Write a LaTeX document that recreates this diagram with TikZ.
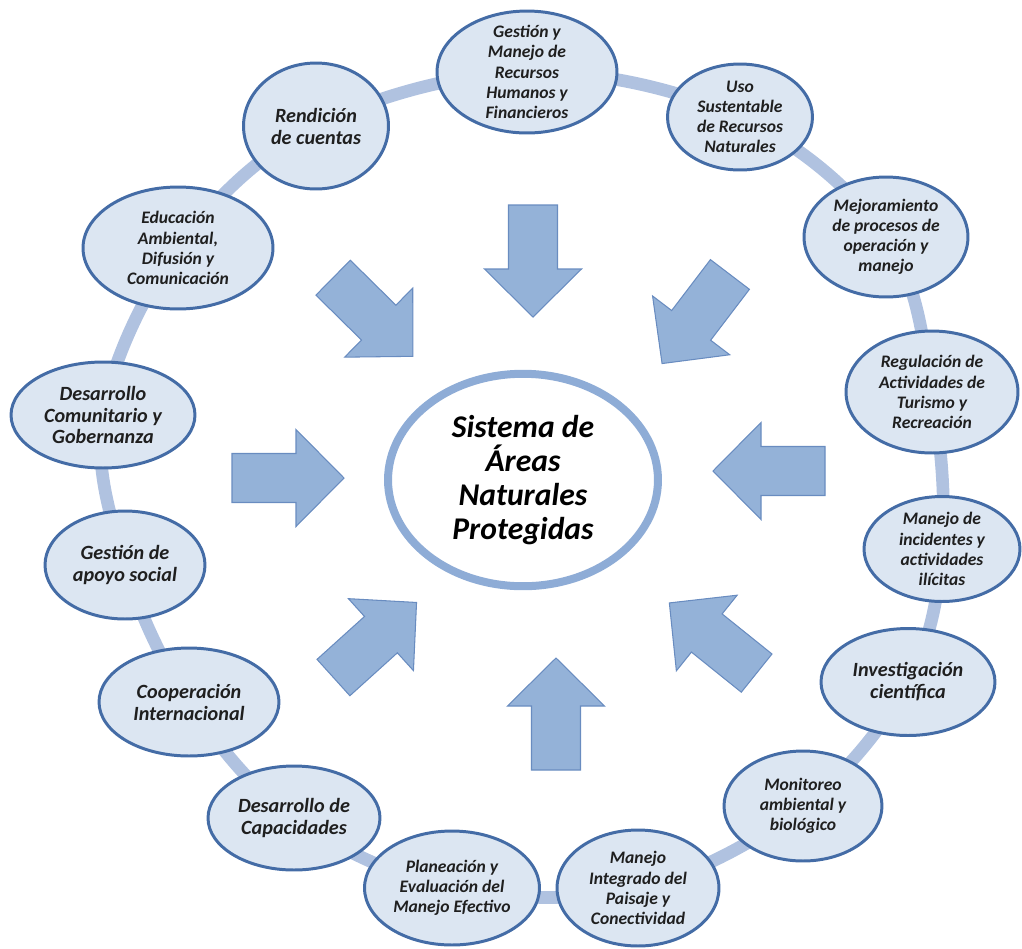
\documentclass[tikz,border=0pt]{standalone}
\usepackage{fontspec}
\setmainfont{Carlito}
\usetikzlibrary{shapes.geometric,backgrounds}

\definecolor{bubblefill}{RGB}{220,230,242}
\definecolor{bubbleline}{RGB}{68,108,166}
\definecolor{ringblue}{RGB}{176,194,224}
\definecolor{arrowfill}{RGB}{148,178,216}
\definecolor{arrowline}{RGB}{105,140,192}
\definecolor{coreline}{RGB}{142,172,214}

\tikzset{
  bubble/.style={ellipse, draw=bubbleline, fill=bubblefill, line width=1.7pt, inner sep=0pt},
  smalltext/.style={align=center, text=black!88, font=\fontsize{10}{11.5}\selectfont\bfseries\itshape},
  bigtext/.style={align=center, text=black!88, font=\fontsize{11.5}{12.5}\selectfont\bfseries\itshape},
  coretext/.style={align=center, text=black, font=\fontsize{18}{19.5}\selectfont\bfseries\itshape},
  ring/.style={draw=ringblue, line width=7.2pt},
  blockarrow/.pic={
    \draw[fill=arrowfill, draw=arrowline, line width=0.6pt]
      (-56,-24.5) -- (8,-24.5) -- (8,-48.5) -- (56,0) -- (8,48.5) -- (8,24.5) -- (-56,24.5) -- cycle;
  }
}

\begin{document}
\begin{tikzpicture}[x=0.02cm, y=-0.02cm]

\useasboundingbox (0,0) rectangle (1022,948);

% centre
\node[ellipse, draw=coreline, fill=white, line width=0.16cm, inner sep=0pt, minimum width=5.4cm, minimum height=4.25cm,
  label={[coretext]center:{Sistema de\\Áreas\\Naturales\\Protegidas}}] (sanp) at (523,480) {};

% ring of topics, clockwise from the top
\node[bubble, minimum width=3.6cm, minimum height=2.44cm, label={[smalltext]center:{Gestión y\\Manejo de\\Recursos\\Humanos y\\Financieros}}] (gestion) at (527,72) {};
\node[bubble, minimum width=2.9cm, minimum height=2.12cm, label={[smalltext]center:{Uso\\Sustentable\\de Recursos\\Naturales}}] (uso) at (740,117) {};
\node[bubble, minimum width=3.28cm, minimum height=2.4cm, label={[smalltext]center:{Mejoramiento\\de procesos de\\operación y\\manejo}}] (mejora) at (886,237) {};
\node[bubble, minimum width=3.44cm, minimum height=2.44cm, label={[smalltext]center:{Regulación de\\Actividades de\\Turismo y\\Recreación}}] (regula) at (932,392) {};
\node[bubble, minimum width=3.12cm, minimum height=2.1cm, label={[smalltext]center:{Manejo de\\incidentes y\\actividades\\ilícitas}}] (ilicitas) at (942,549) {};
\node[bubble, minimum width=3.48cm, minimum height=2.14cm, label={[bigtext]center:{Investigación\\científica}}] (investiga) at (908,682) {};
\node[bubble, minimum width=3.16cm, minimum height=2.2cm, label={[smalltext]center:{Monitoreo\\ambiental y\\biológico}}] (monitoreo) at (803,806) {};
\node[bubble, minimum width=3.24cm, minimum height=2.32cm, label={[smalltext]center:{Manejo\\Integrado del\\Paisaje y\\Conectividad}}] (paisaje) at (638,888) {};
\node[bubble, minimum width=3.5cm, minimum height=2.28cm, label={[smalltext]center:{Planeación y\\Evaluación del\\Manejo Efectivo}}] (planea) at (452,888) {};
\node[bubble, minimum width=3.44cm, minimum height=2.08cm, label={[bigtext]center:{Desarrollo de\\Capacidades}}] (capacidad) at (294,818) {};
\node[bubble, minimum width=3.6cm, minimum height=2.16cm, label={[bigtext]center:{Cooperación\\Internacional}}] (coopera) at (189,702) {};
\node[bubble, minimum width=3.2cm, minimum height=2.16cm, label={[bigtext]center:{Gestión de\\apoyo social}}] (apoyo) at (125,565) {};
\node[bubble, minimum width=3.68cm, minimum height=2.12cm, label={[bigtext]center:{Desarrollo\\Comunitario y\\Gobernanza}}] (comunidad) at (103,415) {};
\node[bubble, minimum width=3.8cm, minimum height=2.44cm, label={[smalltext]center:{Educación\\Ambiental,\\Difusión y\\Comunicación}}] (educa) at (178,248) {};
\node[bubble, minimum width=2.9cm, minimum height=2.52cm, label={[bigtext]center:{Rendición\\de cuentas}}] (rinde) at (316,126) {};

\begin{scope}[on background layer]
\draw[ring] plot[smooth cycle, tension=0.6] coordinates {(gestion.center) (uso.center) (mejora.center) (regula.center)
  (ilicitas.center) (investiga.center) (monitoreo.center) (paisaje.center) (planea.center) (capacidad.center)
  (coopera.center) (apoyo.center) (comunidad.center) (educa.center) (rinde.center)};
\end{scope}

% arrows towards the centre
\pic[rotate=-90] at (533,261) {blockarrow};
\pic[rotate=-44.6] at (373,317) {blockarrow};
\pic[rotate=-127.3] at (696,319) {blockarrow};
\pic[rotate=0] at (288,478) {blockarrow};
\pic[rotate=180] at (769,471) {blockarrow};
\pic[rotate=42.1] at (375,640) {blockarrow};
\pic[rotate=90] at (556,714) {blockarrow};
\pic[rotate=141.2] at (713,638) {blockarrow};

\end{tikzpicture}
\end{document}
